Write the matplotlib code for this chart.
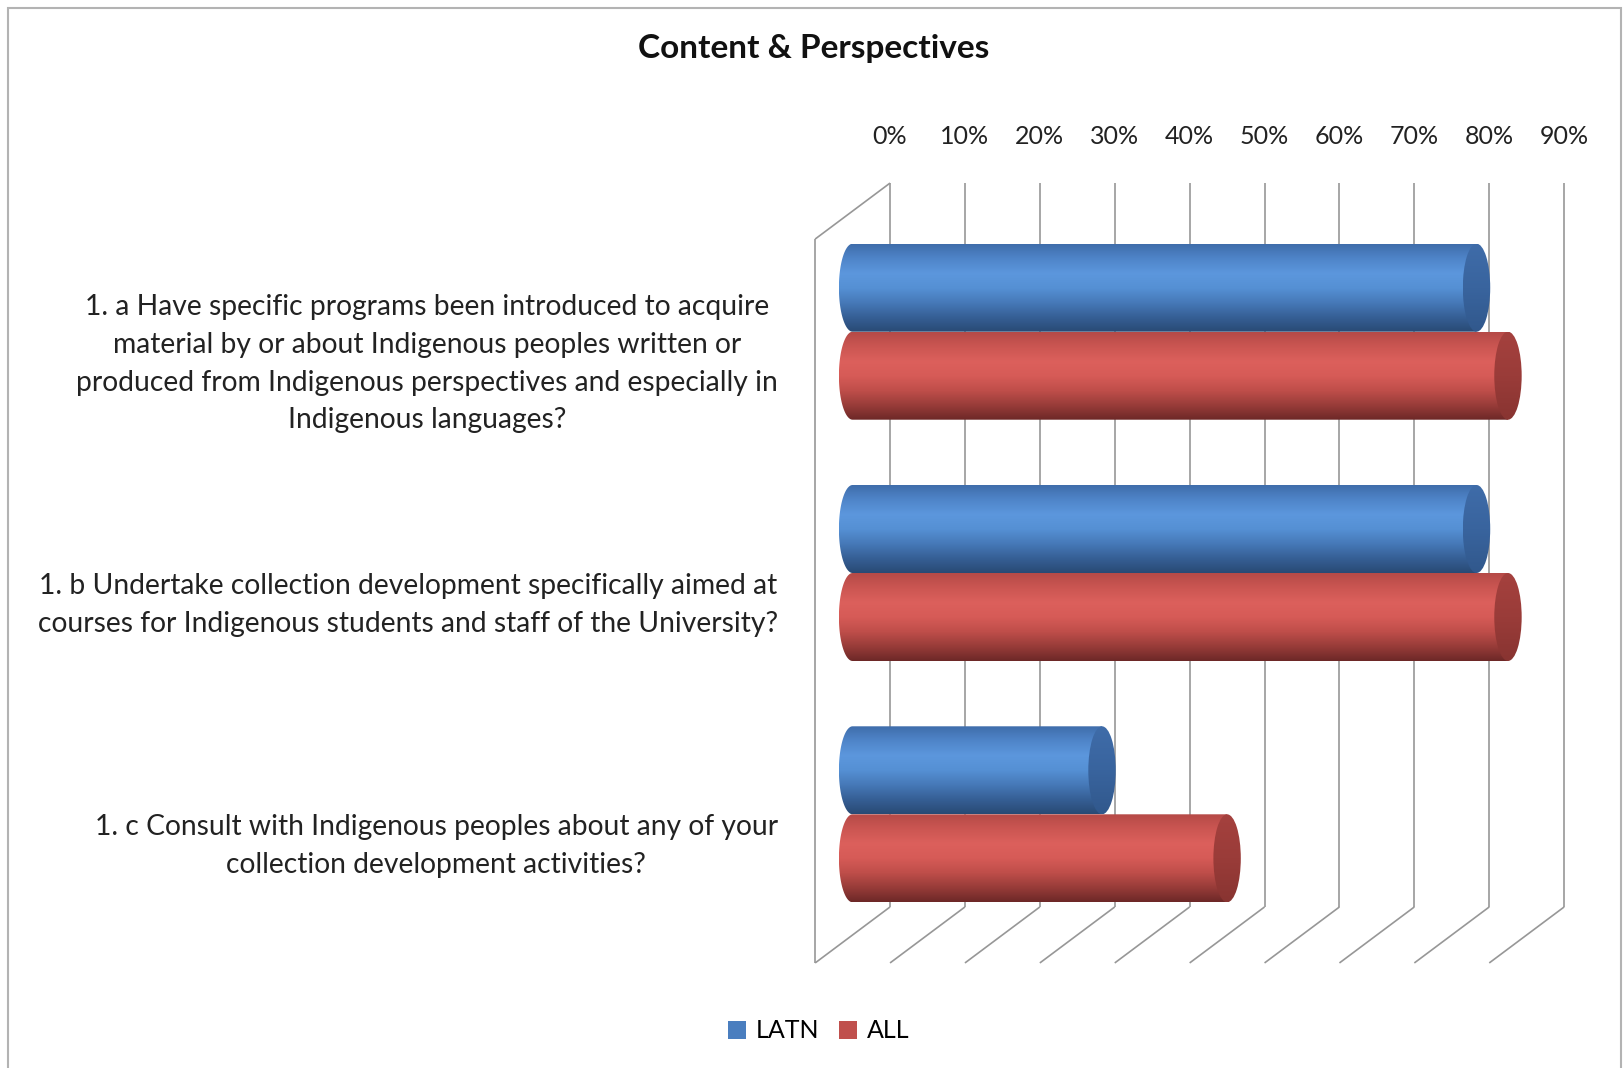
import numpy as np
import matplotlib
matplotlib.use("Agg")
import matplotlib.pyplot as plt
from matplotlib.patches import Ellipse, PathPatch, Patch, Rectangle
from matplotlib.path import Path
from matplotlib.colors import LinearSegmentedColormap

# ---- data -------------------------------------------------------------
title = "Content & Perspectives"
categories = [
    "1. a Have specific programs been introduced to acquire\n"
    "material by or about Indigenous peoples written or\n"
    "produced from Indigenous perspectives and especially in\n"
    "Indigenous languages?",
    "1. b Undertake collection development specifically aimed at\n"
    "courses for Indigenous students and staff of the University?",
    "1. c Consult with Indigenous peoples about any of your\n"
    "collection development activities?",
]
series_names = ["LATN", "ALL"]
latn_values = [83.3, 83.3, 33.3]
all_values = [87.5, 87.5, 50.0]
tick_values = [0, 10, 20, 30, 40, 50, 60, 70, 80, 90]
tick_labels = [f"{v}%" for v in tick_values]

# ---- styling ----------------------------------------------------------
FONT = "Lato"
plt.rcParams["font.family"] = [FONT, "DejaVu Sans"]
GRID = "#979797"
BLUE_BODY = ["#3f6dab", "#4f85c9", "#5c97dd", "#5590d4", "#4679b8", "#365f95", "#294a74"]
RED_BODY = ["#b54a47", "#cb5652", "#dc605c", "#d65b57", "#bf4e4a", "#983c39", "#6c2827"]
BLUE_CAP = ["#3f6ca9", "#39649e", "#31588c"]
RED_CAP = ["#a5413e", "#9a3c39", "#883431"]
LEGEND_BLUE = "#4a7ebf"
LEGEND_RED = "#c0504d"

W, H, DPI = 1623, 1068, 100
fig = plt.figure(figsize=(W / DPI, H / DPI), dpi=DPI)
fig.patch.set_facecolor("white")
ax = fig.add_axes([0, 0, 1, 1])
ax.axis("off")

# plot geometry: value axis in percent, category axis in category units
PX_PER_PCT = 7.49
ZERO_PX = 852.6
PX_PER_CAT = 241.3
CAT0_PX = 331.7
xlim = (-ZERO_PX / PX_PER_PCT, (W - ZERO_PX) / PX_PER_PCT)
ylim = ((H - CAT0_PX) / PX_PER_CAT, -CAT0_PX / PX_PER_CAT)

DX = 5.0                 # half depth along the value axis (percent units)
DY = 28.0 / PX_PER_CAT   # half depth along the category axis
BAR_H = 88.0 / PX_PER_CAT
CAP_RX = 13.7 / PX_PER_PCT
n_cat = len(categories)
top_edge, bottom_edge = -0.5, n_cat - 0.5

line_kw = dict(color=GRID, lw=1.2, solid_capstyle="butt", zorder=1)
# back wall gridlines and floor lines
for v in tick_values:
    ax.plot([v + DX, v + DX], [top_edge - DY, bottom_edge - DY], **line_kw)
    ax.plot([v + DX, v - DX], [bottom_edge - DY, bottom_edge + DY], **line_kw)
# side wall
ax.plot([-DX, -DX], [top_edge + DY, bottom_edge + DY], **line_kw)
ax.plot([DX, -DX], [top_edge - DY, top_edge + DY], **line_kw)

# value tick labels along the top of the back wall
tick_y = (136 - CAT0_PX) / PX_PER_CAT
for v, lab in zip(tick_values, tick_labels):
    ax.text(v + DX, tick_y, lab, ha="center", va="center", fontsize=18, color="#222222")


def gradient(colors, n=256):
    cmap = LinearSegmentedColormap.from_list("g", colors)
    return cmap(np.linspace(0, 1, n))[:, None, :3]


def cylinder(value, y_top, height, body_cols, cap_cols, z):
    ry = height / 2
    yc = y_top + ry
    th = np.linspace(np.pi / 2, 3 * np.pi / 2, 80)
    left = np.column_stack([CAP_RX * np.cos(th), yc + ry * np.sin(th)])
    right = np.array([[value, yc - ry], [value, yc + ry], left[0]])
    verts = np.vstack([left, right])
    codes = [Path.MOVETO] + [Path.LINETO] * (len(verts) - 2) + [Path.CLOSEPOLY]
    body = PathPatch(Path(verts, codes), facecolor="none", edgecolor="none",
                     transform=ax.transData)
    ax.add_patch(body)
    im = ax.imshow(gradient(body_cols), extent=(-CAP_RX, value + 0.01, y_top + height, y_top),
                   aspect="auto", interpolation="bilinear", zorder=z)
    im.set_clip_path(body)

    cap = Ellipse((value, yc), 2 * CAP_RX, height, facecolor="none", edgecolor="none",
                  transform=ax.transData)
    ax.add_patch(cap)
    im2 = ax.imshow(gradient(cap_cols), extent=(value - CAP_RX, value + CAP_RX, y_top + height, y_top),
                    aspect="auto", interpolation="bilinear", zorder=z + 0.5)
    im2.set_clip_path(cap)


for i in range(n_cat):
    cylinder(latn_values[i], i - BAR_H, BAR_H, BLUE_BODY, BLUE_CAP, 3 + 2 * i)
    cylinder(all_values[i], i, BAR_H, RED_BODY, RED_CAP, 4 + 2 * i)

# category labels, right aligned against the side wall
label_x = (778 - ZERO_PX) / PX_PER_PCT
for i, lab in enumerate(categories):
    ax.text(label_x, i + DY + 4 / PX_PER_CAT, lab, ha="right", va="center",
            multialignment="center", fontsize=20.3, linespacing=1.56, color="#222222")

ax.set_xlim(*xlim)
ax.set_ylim(*ylim)

# title
fig.text(813.6 / W, 1 - 48.6 / H, title, ha="center", va="center",
         fontsize=24, fontweight="bold", color="#111111")

# legend
handles = [Patch(facecolor=LEGEND_BLUE, edgecolor="none"),
           Patch(facecolor=LEGEND_RED, edgecolor="none")]
fig.legend(handles, series_names, loc="center", bbox_to_anchor=(819 / W, 1 - 1031 / H),
           ncol=2, frameon=False, fontsize=18, handlelength=0.7, handleheight=0.7,
           handletextpad=0.4, columnspacing=0.8)

# chart area frame
fig.patches.append(Rectangle((8 / W, -0.01), (W - 10) / W, 1 - 8 / H + 0.01,
                             transform=fig.transFigure, fill=False,
                             edgecolor="#b3b3b3", lw=1.5))

fig.savefig("out.png", dpi=DPI, facecolor="white")
